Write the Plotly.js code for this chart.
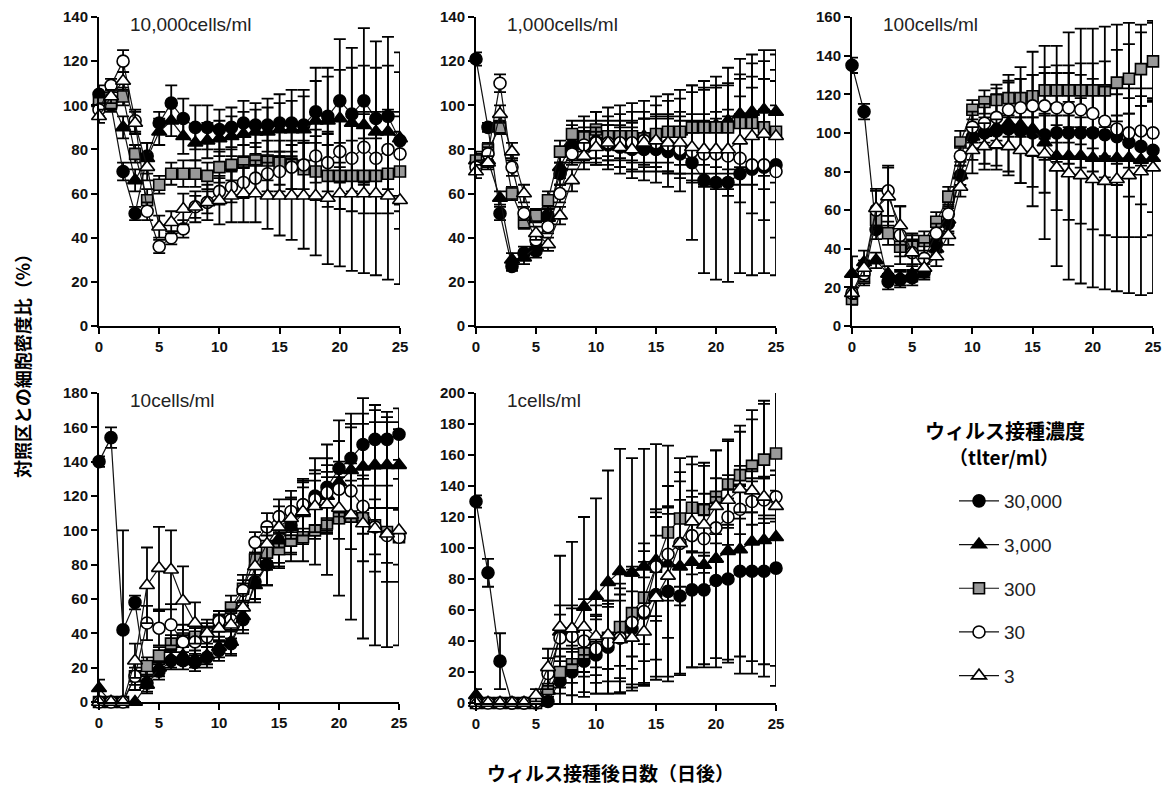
<!DOCTYPE html>
<html>
<head>
<meta charset="utf-8">
<script src="https://cdn.plot.ly/plotly-3.0.1.min.js"></script>
<style>html,body{margin:0;padding:0;background:#fff;}#chart{width:1165px;height:787px;}</style>
</head>
<body>
<div id="chart"></div>
<script>
// ---- data ----
const days = [0,1,2,3,4,5,6,7,8,9,10,11,12,13,14,15,16,17,18,19,20,21,22,23,24,25];
const seriesNames = ['30,000','3,000','300','30','3'];
const panelTitles = ['10,000cells/ml','1,000cells/ml','100cells/ml','10cells/ml','1cells/ml'];
const yTopValues = [140,140,160,180,200];
const xTickValues = [0,5,10,15,20,25];

// panel 1: 10,000 cells/ml
const p1_30000 = [105,100,70,51,77,92,101,94,90,90,89,90,92,91,91,92,92,91,97,95,102,96,102,94,95,84];
const p1_3000  = [101,103,90,66,76,88,93,86,83,84,85,86,87,88,88,89,89,89,93,93,94,92,91,88,88,85];
const p1_300   = [101,101,104,78,57,64,69,69,69,68,72,73,74,75,75,74,73,71,70,68,68,68,68,68,69,70];
const p1_30    = [98,109,120,93,52,36,40,44,54,56,61,63,65,67,69,70,72,73,77,74,79,76,81,76,80,78];
const p1_3     = [95,104,111,92,72,45,47,53,54,56,57,59,60,60,59,59,59,59,59,58,60,60,60,60,59,57];
const e1_30000 = [4,3,4,3,6,5,8,9,10,10,9,9,10,10,12,13,15,16,20,22,28,30,33,35,36,40];
const e1_3000  = [3,4,5,5,7,6,7,8,8,8,8,9,10,10,11,12,13,15,18,20,22,25,27,29,30,30];
const e1_300   = [3,3,4,4,5,4,5,6,6,6,7,7,8,8,9,10,11,12,13,14,15,16,17,17,18,18];
const e1_30    = [3,3,5,5,4,3,3,4,5,5,6,7,7,8,8,9,10,11,12,13,14,15,16,17,18,19];
const e1_3     = [3,3,4,5,6,5,5,7,7,8,11,12,13,13,15,18,20,24,27,30,33,35,36,37,38,38];

// panel 2: 1,000 cells/ml
const p2_30000 = [121,90,51,27,33,34,50,69,80,82,83,82,81,80,80,80,79,78,74,66,65,65,69,71,72,73];
const p2_3000  = [75,75,58,30,31,36,49,72,83,85,85,86,86,86,86,87,87,88,89,90,91,93,96,97,98,97];
const p2_300   = [75,80,90,60,47,50,57,79,87,86,89,86,86,86,85,87,88,88,90,90,90,90,92,92,90,88];
const p2_30    = [72,78,110,72,51,39,45,60,78,82,83,83,83,83,84,83,82,80,79,78,78,77,76,73,73,70];
const p2_3     = [70,74,96,79,60,42,37,50,66,77,81,83,81,80,83,84,83,83,81,80,80,80,84,86,87,86];
const e2_30000 = [3,2,3,2,3,3,4,5,6,8,10,11,12,13,14,15,16,17,35,42,44,45,45,48,48,50];
const e2_3000  = [4,3,3,3,3,3,4,5,8,10,12,13,14,15,16,17,18,19,20,21,22,24,25,26,27,28];
const e2_300   = [3,3,3,3,3,3,4,5,6,7,8,9,10,11,12,13,14,15,16,17,18,19,20,21,22,23];
const e2_30    = [3,3,4,4,3,3,3,4,5,6,7,8,8,9,10,11,12,13,14,15,16,18,20,22,25,30];
const e2_3     = [3,3,4,4,4,3,3,4,5,6,7,8,9,10,11,12,13,14,15,16,17,18,20,22,25,30];

// panel 3: 100 cells/ml
const p3_30000 = [135,111,50,23,24,25,28,43,53,78,98,100,101,102,101,100,99,100,100,100,100,99,98,95,93,91];
const p3_3000  = [27,33,34,27,25,27,30,40,55,78,98,100,103,105,104,102,95,88,88,88,87,87,87,87,86,87];
const p3_300   = [14,25,55,48,41,42,44,54,67,95,112,116,117,118,118,119,122,122,122,122,122,122,126,128,133,137];
const p3_30    = [17,27,60,70,47,38,35,48,58,88,103,105,108,112,113,114,114,113,113,112,110,106,102,100,101,100];
const p3_3     = [17,30,61,67,52,38,30,36,47,72,91,93,94,93,91,90,89,82,79,78,76,75,76,78,80,82];
const e3_30000 = [4,4,5,4,4,4,4,5,5,5,6,8,9,10,11,12,13,15,16,18,20,22,25,28,30,32];
const e3_3000  = [9,6,4,4,4,4,4,5,6,7,12,16,20,25,30,40,50,57,64,66,67,68,69,70,70,70];
const e3_300   = [3,4,6,6,5,5,5,5,5,6,5,6,8,9,10,11,12,13,13,14,14,15,17,18,19,21];
const e3_30    = [3,4,10,13,15,10,8,5,5,5,8,10,12,14,15,16,17,18,18,18,18,18,18,18,18,18];
const e3_3     = [3,4,10,15,10,6,5,5,5,5,12,12,13,15,17,18,20,22,24,25,26,28,30,32,34,35];

// panel 4: 10 cells/ml
const p4_30000 = [140,154,42,58,11,18,24,24,23,26,30,34,48,70,80,92,103,112,120,125,136,142,150,153,153,156];
const p4_3000  = [8,0,0,0,10,20,25,27,25,27,32,35,50,68,80,95,102,110,115,120,128,135,137,138,138,138];
const p4_300   = [0,0,0,15,21,27,34,37,38,40,47,55,66,83,87,89,94,96,100,104,107,108,107,103,99,96];
const p4_30    = [0,0,0,15,46,43,45,35,35,38,47,48,65,93,102,108,111,115,118,122,124,123,114,102,97,96];
const p4_3     = [0,0,0,24,68,78,77,59,46,40,43,45,55,79,92,102,107,111,114,115,113,109,104,101,98,100];
const e4_30000 = [3,6,58,4,5,5,5,5,5,6,6,7,8,10,12,14,16,18,22,25,28,20,18,17,16,15];
const e4_3000  = [5,0,0,0,5,5,5,5,5,5,6,7,8,10,12,14,16,18,20,22,24,25,25,25,25,25];
const e4_300   = [0,0,0,5,5,5,5,5,5,6,6,7,8,9,10,10,12,14,20,30,45,60,70,70,67,63];
const e4_30    = [0,0,0,8,10,10,12,10,8,6,6,6,6,6,8,10,12,14,15,16,16,16,16,16,16,16];
const e4_3     = [0,0,0,10,22,24,23,20,12,8,8,8,8,8,10,12,12,14,15,16,18,20,22,25,28,30];

// panel 5: 1 cells/ml
const p5_30000 = [130,84,27,0,0,0,1,14,20,27,31,36,42,48,58,70,72,69,73,73,79,80,85,85,85,87];
const p5_3000  = [5,0,0,0,0,0,8,46,48,62,69,78,85,84,88,92,90,88,91,89,93,98,99,104,105,107];
const p5_300   = [0,0,0,0,0,0,9,20,25,32,36,42,49,58,68,88,110,119,126,125,133,141,147,153,157,161];
const p5_30    = [0,0,0,0,0,1,19,42,43,40,35,39,42,52,59,88,96,103,108,106,113,120,125,130,131,133];
const p5_3     = [0,0,0,0,0,5,23,49,48,49,43,44,41,42,46,68,82,103,117,115,127,131,138,137,133,127];
const e5_30000 = [4,9,18,0,0,0,3,8,15,20,25,30,35,40,45,55,55,50,50,48,50,52,55,58,60,63];
const e5_3000  = [4,0,0,0,0,0,10,49,56,58,63,72,79,74,76,75,76,70,68,66,70,72,80,85,88,96];
const e5_300   = [0,0,0,0,0,0,8,10,12,15,18,20,25,28,30,32,30,30,28,28,30,28,28,30,38,40];
const e5_30    = [0,0,0,0,0,2,10,15,18,20,22,25,28,30,32,35,30,28,25,22,20,18,16,15,15,14];
const e5_3     = [0,0,0,0,0,4,12,14,15,18,20,22,25,30,35,40,40,40,20,20,18,16,15,14,12,10];

const panelValues = [
  [p1_30000,p1_3000,p1_300,p1_30,p1_3],
  [p2_30000,p2_3000,p2_300,p2_30,p2_3],
  [p3_30000,p3_3000,p3_300,p3_30,p3_3],
  [p4_30000,p4_3000,p4_300,p4_30,p4_3],
  [p5_30000,p5_3000,p5_300,p5_30,p5_3]
];
const panelErrors = [
  [e1_30000,e1_3000,e1_300,e1_30,e1_3],
  [e2_30000,e2_3000,e2_300,e2_30,e2_3],
  [e3_30000,e3_3000,e3_300,e3_30,e3_3],
  [e4_30000,e4_3000,e4_300,e4_30,e4_3],
  [e5_30000,e5_3000,e5_300,e5_30,e5_3]
];

// ---- styles ----
const W = 1165, H = 787;
const styles = [
  {symbol:'circle', size:12, color:'#000000'},
  {symbol:'triangle-up', size:13, color:'#000000'},
  {symbol:'square', size:11, color:'#999999'},
  {symbol:'circle', size:12, color:'#ffffff'},
  {symbol:'triangle-up', size:13, color:'#ffffff'}
];
// pixel boxes: [xLeft, xRight, yBottom(pixel of 0), yTop(pixel)]
const boxes = [
  [99,400,326,17],[476,776,326,17],[852,1153,326,17],
  [99,399,702,393],[476,776,703,393]
];
const axisFont = {family:'Liberation Sans, Arial, sans-serif', size:15, color:'#111'};
const boldText = v => '<b>' + v + '</b>';

const traces = [];
const layout = {
  width:W, height:H,
  margin:{l:0,r:0,t:0,b:0},
  paper_bgcolor:'#fff', plot_bgcolor:'rgba(0,0,0,0)',
  showlegend:true,
  legend:{x:954/W, y:1-482/H, xanchor:'left', yanchor:'top',
          font:{family:'Liberation Sans, Arial, sans-serif', size:19, color:'#222'},
          tracegroupgap:16, itemwidth:40, traceorder:'grouped', bgcolor:'rgba(0,0,0,0)'},
  annotations:[]
};

for (let p=0;p<5;p++){
  const ax = p===0?'':String(p+1);
  const b = boxes[p];
  const yTickValues = [];
  for (let v=0; v<=yTopValues[p]; v+=20) yTickValues.push(v);
  layout['xaxis'+ax] = {
    domain:[b[0]/W, b[1]/W], anchor:'y'+ax, range:[0,25],
    tickmode:'array', tickvals:xTickValues, ticktext:xTickValues.map(boldText),
    showline:true, linewidth:2, linecolor:'#000', ticks:'outside', ticklen:6, tickwidth:2, tickcolor:'#000',
    showgrid:false, zeroline:false, tickfont:axisFont, fixedrange:true
  };
  layout['yaxis'+ax] = {
    domain:[1-b[2]/H, 1-b[3]/H], anchor:'x'+ax, range:[0,yTopValues[p]],
    tickmode:'array', tickvals:yTickValues, ticktext:yTickValues.map(boldText),
    showline:true, linewidth:2, linecolor:'#000', ticks:'outside', ticklen:6, tickwidth:2, tickcolor:'#000',
    showgrid:false, zeroline:false, tickfont:axisFont, fixedrange:true
  };
  layout.annotations.push({
    xref:'paper', yref:'paper', x:(b[0]+29)/W, y:1-(b[3]+8)/H,
    xanchor:'left', yanchor:'middle', showarrow:false, text:panelTitles[p],
    font:{family:'Liberation Sans, Arial, sans-serif', size:19, color:'#222'}
  });
  for (let s=0;s<5;s++){
    const st = styles[s];
    traces.push({
      type:'scatter', mode:'lines+markers',
      x:days, y:panelValues[p][s],
      xaxis:'x'+ax, yaxis:'y'+ax,
      name:seriesNames[s], legendgroup:'g'+s, showlegend:p===0,
      cliponaxis:false,
      line:{color:'#111', width:1.2},
      marker:{symbol:st.symbol, size:st.size, color:st.color, line:{color:'#000', width:1.6}},
      error_y:{type:'data', array:panelErrors[p][s], symmetric:true, color:'#000', thickness:1.8, width:6}
    });
  }
}

// axis titles and legend title
layout.annotations.push({
  xref:'paper', yref:'paper', x:22/W, y:1-362/H, xanchor:'center', yanchor:'middle', textangle:-90,
  showarrow:false, text:'対照区との細胞密度比（%）',
  font:{family:'Noto Sans CJK JP, sans-serif', size:18, color:'#000', weight:'bold'}
});
layout.annotations.push({
  xref:'paper', yref:'paper', x:610/W, y:1-772/H, xanchor:'center', yanchor:'middle',
  showarrow:false, text:'ウィルス接種後日数（日後）',
  font:{family:'Noto Sans CJK JP, sans-serif', size:19, color:'#000', weight:'bold'}
});
layout.annotations.push({
  xref:'paper', yref:'paper', x:1005/W, y:1-430/H, xanchor:'center', yanchor:'middle',
  showarrow:false, text:'ウィルス接種濃度',
  font:{family:'Noto Sans CJK JP, sans-serif', size:20, color:'#000', weight:'bold'}
});
layout.annotations.push({
  xref:'paper', yref:'paper', x:1004/W, y:1-456/H, xanchor:'center', yanchor:'middle',
  showarrow:false, text:'（tlter/ml）',
  font:{family:'Noto Sans CJK JP, sans-serif', size:19, color:'#000', weight:'bold'}
});

Plotly.newPlot('chart', traces, layout, {displayModeBar:false, staticPlot:true});
</script>
</body>
</html>
